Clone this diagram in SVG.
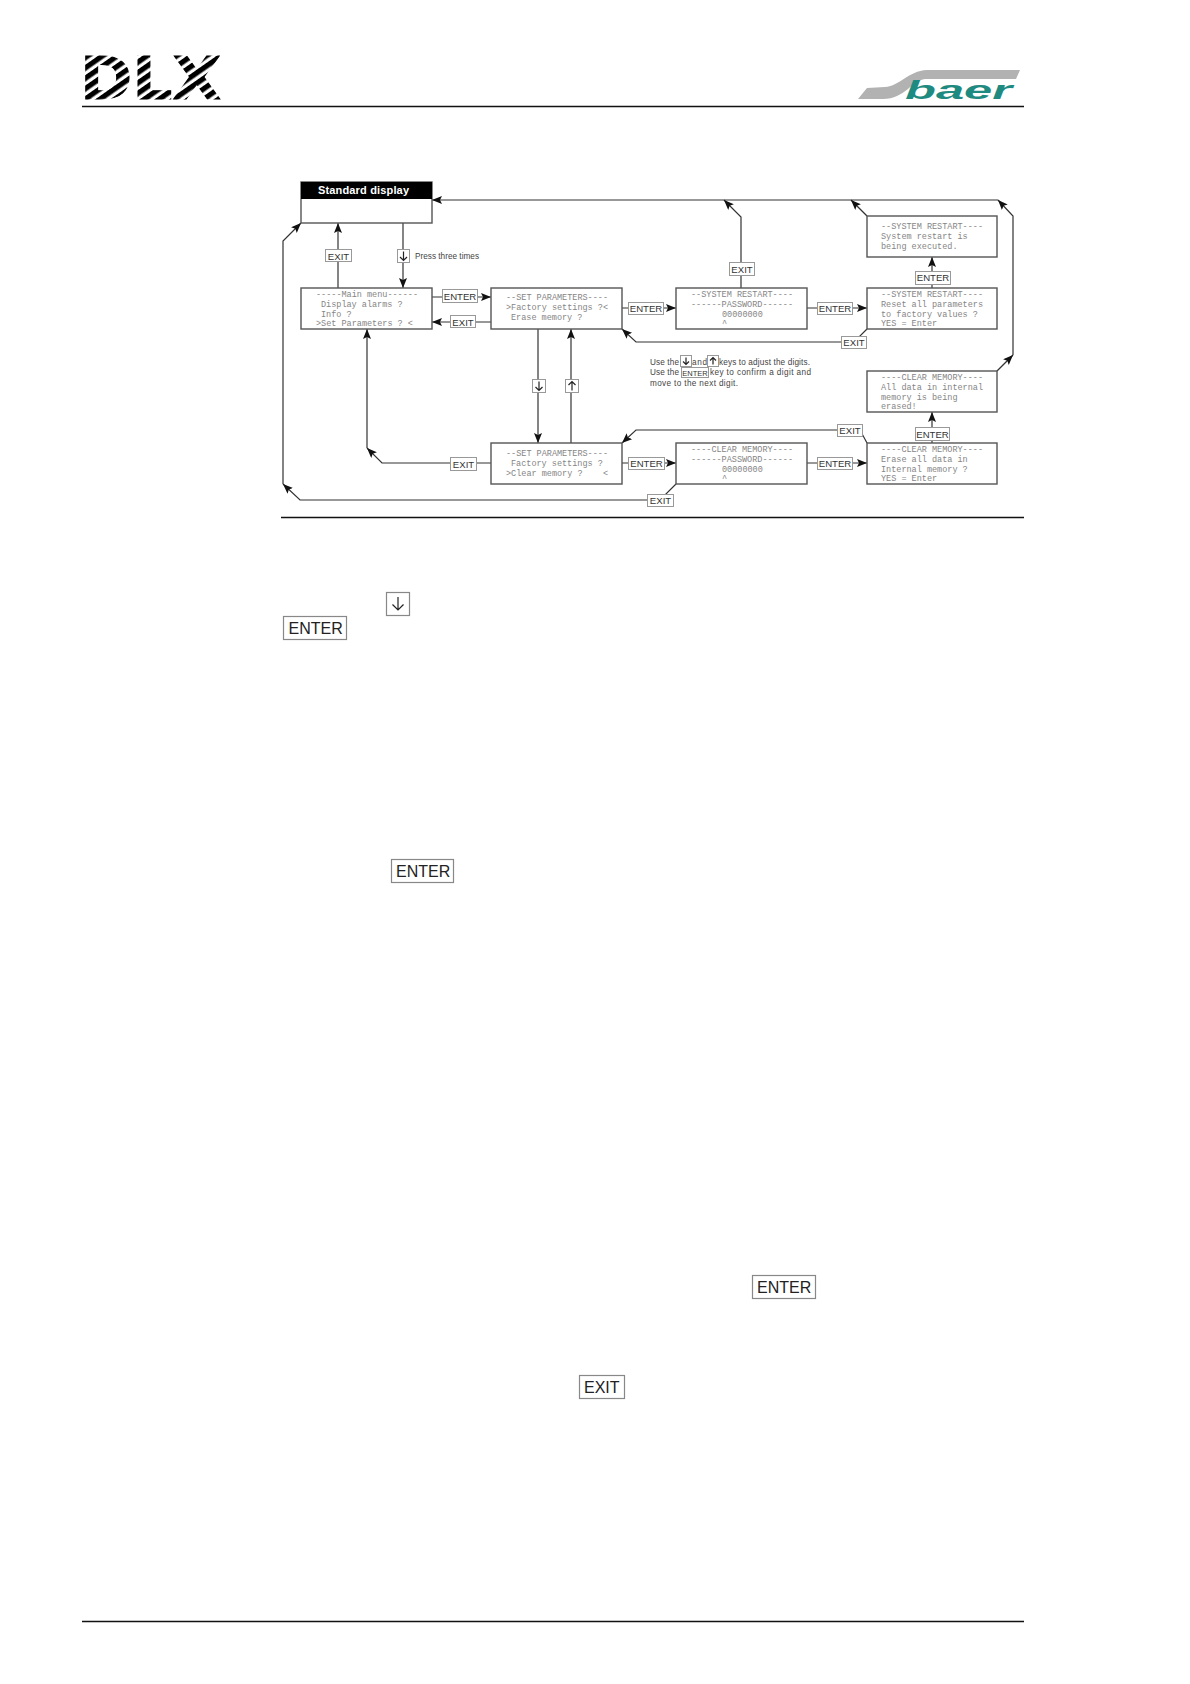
<svg xmlns="http://www.w3.org/2000/svg" width="1190" height="1684" viewBox="0 0 1190 1684">
<style>
.rule{stroke:#111;stroke-width:1.3;fill:none}
.box{fill:#fff;stroke:#555;stroke-width:1.4}
.t{font-family:"Liberation Mono",monospace;font-size:8.5px;fill:#858585;white-space:pre}
.c{fill:none;stroke:#333;stroke-width:1.2}
.a{marker-end:url(#ah)}
.kb{fill:#fff;stroke:#999;stroke-width:1}
.k{font-family:"Liberation Sans",Arial,sans-serif;font-size:9.600px;fill:#333;text-anchor:middle}
.n{font-family:"Liberation Sans",Arial,sans-serif;font-size:8.2px;fill:#444}
.bk{fill:#fff;stroke:#888;stroke-width:1.2}
.big{font-family:"Liberation Sans",Arial,sans-serif;font-size:16px;fill:#222}
.ic{fill:none;stroke:#222;stroke-width:1.2}
</style>
<defs>
<marker id="ah" markerUnits="userSpaceOnUse" markerWidth="11" markerHeight="9" refX="10" refY="4" orient="auto"><path d="M0 0L10 4L0 8L2 4Z" fill="#111"/></marker>
<pattern id="stripes" width="10" height="8.500" patternUnits="userSpaceOnUse" patternTransform="rotate(-35)"><rect width="10" height="5.200" fill="#000"/></pattern>
<path id="dn" d="M0 -4.500V4.500M-3.500 1L0 4.500L3.500 1"/>
<path id="up" d="M0 4.500V-4.500M-3.500 -1L0 -4.500L3.500 -1"/>
<path id="dns" d="M0 -3.500V3.500M-3 0.500L0 3.500L3 0.500"/>
<path id="ups" d="M0 3.500V-3.500M-3 -0.500L0 -3.500L3 -0.500"/>
</defs>

<g id="logo-dlx"><text x="80" y="99" font-family="DejaVu Sans, sans-serif" font-weight="bold" font-size="59" textLength="141" lengthAdjust="spacingAndGlyphs" fill="url(#stripes)" stroke="url(#stripes)" stroke-width="1">DLX</text></g>
<g id="logo-baer">
<path d="M858 99L867 88L885 87C900 86 908 71 927 70L1020 70L1016 79L925 79C912 80 905 99 883 99Z" fill="#b2b2b2"/>
<text x="905" y="99" font-family="Liberation Sans, Arial, sans-serif" font-weight="bold" font-style="italic" font-size="25" textLength="107" lengthAdjust="spacingAndGlyphs" fill="#1f8a7f">baer</text>
</g>
<line class="rule" x1="82" y1="106.500" x2="1024" y2="106.500"/>
<line class="rule" x1="281" y1="517.500" x2="1024" y2="517.500"/>
<line class="rule" x1="82" y1="1621.500" x2="1024" y2="1621.500"/>

<g id="connectors">
<path class="c a" d="M998 200L432 200"/>
<path class="c a" d="M1013 355L1013 216L998 200"/>
<path class="c a" d="M997 371L1013 355"/>
<path class="c a" d="M741 288L741 217L724 200"/>
<path class="c a" d="M867 216L851 200"/>
<path class="c a" d="M338 288L338 223"/>
<path class="c a" d="M403 223L403 288"/>
<path class="c a" d="M432 297L491 297"/>
<path class="c a" d="M491 322L432 322"/>
<path class="c a" d="M622 308L676 308"/>
<path class="c a" d="M807 308L867 308"/>
<path class="c a" d="M932 288L932 257"/>
<path class="c a" d="M867 329L854 342L636 342L622 329"/>
<path class="c a" d="M538 329L538 443"/>
<path class="c a" d="M571 443L571 329"/>
<path class="c a" d="M491 463L382 463L367 448"/>
<path class="c a" d="M367 448L367 329"/>
<path class="c a" d="M622 463L676 463"/>
<path class="c a" d="M807 463L867 463"/>
<path class="c a" d="M932 443L932 412"/>
<path class="c a" d="M867 443L860 430L636 430L622 443"/>
<path class="c a" d="M676 484L660 500L300 500L283 484"/>
<path class="c a" d="M283 484L283 241L301 223"/>
<g>
<rect class="kb" x="325.500" y="249.500" width="26" height="12"/><text class="k" x="338.500" y="259.500">EXIT</text>
<rect class="kb" x="397.500" y="249.500" width="12" height="13"/><use class="ic" href="#dn" x="403.500" y="256"/>
<rect class="kb" x="442.500" y="289.500" width="35" height="13"/><text class="k" x="460" y="300">ENTER</text>
<rect class="kb" x="450.500" y="315.500" width="25" height="12"/><text class="k" x="463" y="325.500">EXIT</text>
<rect class="kb" x="628.500" y="302.500" width="35" height="12"/><text class="k" x="646" y="312">ENTER</text>
<rect class="kb" x="817.500" y="302.500" width="35" height="12"/><text class="k" x="835" y="312">ENTER</text>
<rect class="kb" x="915.500" y="271.500" width="35" height="13"/><text class="k" x="933" y="281">ENTER</text>
<rect class="kb" x="729.500" y="262.500" width="25" height="13"/><text class="k" x="742" y="272.500">EXIT</text>
<rect class="kb" x="841.500" y="336.500" width="25" height="12"/><text class="k" x="854" y="346">EXIT</text>
<rect class="kb" x="532.500" y="379.500" width="13" height="13"/><use class="ic" href="#dn" x="539" y="386"/>
<rect class="kb" x="565.500" y="379.500" width="13" height="13"/><use class="ic" href="#up" x="572" y="386"/>
<rect class="kb" x="450.500" y="457.500" width="26" height="13"/><text class="k" x="463.500" y="467.500">EXIT</text>
<rect class="kb" x="628.500" y="457.500" width="36" height="12"/><text class="k" x="646.500" y="467">ENTER</text>
<rect class="kb" x="817.500" y="457.500" width="35" height="12"/><text class="k" x="835" y="467">ENTER</text>
<rect class="kb" x="915.500" y="427.500" width="34" height="13"/><text class="k" x="932.500" y="437.500">ENTER</text>
<rect class="kb" x="837.500" y="424.500" width="25" height="12"/><text class="k" x="850" y="434">EXIT</text>
<rect class="kb" x="647.500" y="494.500" width="26" height="12"/><text class="k" x="660.500" y="504">EXIT</text>
</g>
</g>

<g id="standard-display"><rect class="box" x="301" y="182" width="131" height="41"/><rect x="301" y="182" width="131" height="17" fill="#000"/><text x="318" y="194" font-family="Liberation Sans, Arial, sans-serif" font-weight="bold" font-size="11" textLength="91" fill="#fff">Standard display</text></g>
<g id="main-menu"><rect class="box" x="301" y="288" width="131" height="41"/><text class="t" x="316" y="297">-----Main menu------</text><text class="t" x="321" y="307">Display alarms ?</text><text class="t" x="321" y="317">Info ?</text><text class="t" x="316" y="326">&gt;Set Parameters ? &lt;</text></g>
<g id="set-parameters-1"><rect class="box" x="491" y="288" width="131" height="41"/><text class="t" x="506" y="300">--SET PARAMETERS----</text><text class="t" x="506" y="310">&gt;Factory settings ?&lt;</text><text class="t" x="511" y="320">Erase memory ?</text></g>
<g id="restart-password"><rect class="box" x="676" y="288" width="131" height="41"/><text class="t" x="691" y="297">--SYSTEM RESTART----</text><text class="t" x="691" y="307">------PASSWORD------</text><text class="t" x="722" y="317">00000000</text><text class="t" x="722" y="326">^</text></g>
<g id="restart-confirm"><rect class="box" x="867" y="288" width="130" height="41"/><text class="t" x="881" y="297">--SYSTEM RESTART----</text><text class="t" x="881" y="307">Reset all parameters</text><text class="t" x="881" y="317">to factory values ?</text><text class="t" x="881" y="326">YES = Enter</text></g>
<g id="restart-exec"><rect class="box" x="867" y="216" width="130" height="41"/><text class="t" x="881" y="229">--SYSTEM RESTART----</text><text class="t" x="881" y="239">System restart is</text><text class="t" x="881" y="249">being executed.</text></g>
<g id="set-parameters-2"><rect class="box" x="491" y="443" width="131" height="41"/><text class="t" x="506" y="456">--SET PARAMETERS----</text><text class="t" x="511" y="466">Factory settings ?</text><text class="t" x="506" y="476">&gt;Clear memory ?    &lt;</text></g>
<g id="clear-password"><rect class="box" x="676" y="443" width="131" height="41"/><text class="t" x="691" y="452">----CLEAR MEMORY----</text><text class="t" x="691" y="462">------PASSWORD------</text><text class="t" x="722" y="472">00000000</text><text class="t" x="722" y="481">^</text></g>
<g id="clear-confirm"><rect class="box" x="867" y="443" width="130" height="41"/><text class="t" x="881" y="452">----CLEAR MEMORY----</text><text class="t" x="881" y="462">Erase all data in</text><text class="t" x="881" y="472">Internal memory ?</text><text class="t" x="881" y="481">YES = Enter</text></g>
<g id="clear-exec"><rect class="box" x="867" y="371" width="130" height="41"/><text class="t" x="881" y="380">----CLEAR MEMORY----</text><text class="t" x="881" y="390">All data in internal</text><text class="t" x="881" y="400">memory is being</text><text class="t" x="881" y="409">erased!</text></g>

<g id="notes">
<text class="n" x="415" y="259" textLength="64">Press three times</text>
<text class="n" x="650" y="365" textLength="29">Use the</text>
<rect class="kb" x="680.500" y="355.500" width="11" height="11"/><use class="ic" href="#dns" x="686" y="361"/>
<text class="n" x="692" y="365" textLength="15">and</text>
<rect class="kb" x="707.500" y="355.500" width="11" height="11"/><use class="ic" href="#ups" x="713" y="361"/>
<text class="n" x="719" y="365" textLength="91">keys to adjust the digits.</text>
<text class="n" x="650" y="375" textLength="29">Use the</text>
<rect class="kb" x="681.500" y="367.500" width="27" height="10"/><text class="k" x="695" y="375.500" style="font-size:7.500px">ENTER</text>
<text class="n" x="710" y="375" textLength="101">key to confirm a digit and</text>
<text class="n" x="650" y="386" textLength="88">move to the next digit.</text>
</g>

<g id="page-keys">
<rect class="bk" x="386.500" y="592.500" width="23" height="23"/><path class="ic" d="M398 597V610M392.500 604.500L398 610L403.500 604.500" stroke-width="1.500"/>
<rect class="bk" x="283.500" y="616.500" width="63" height="23"/><text class="big" x="288.500" y="634">ENTER</text>
<rect class="bk" x="391.500" y="859.500" width="62" height="23"/><text class="big" x="396" y="877">ENTER</text>
<rect class="bk" x="752.500" y="1275.500" width="63" height="23"/><text class="big" x="757" y="1293">ENTER</text>
<rect class="bk" x="579.500" y="1375.500" width="45" height="23"/><text class="big" x="584" y="1393">EXIT</text>
</g>
</svg>
